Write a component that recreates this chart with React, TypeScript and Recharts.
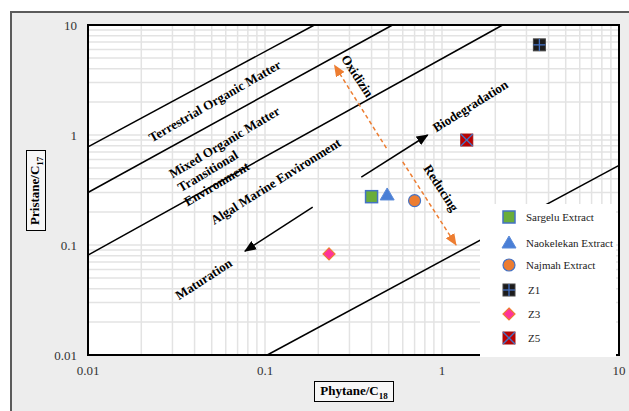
import React from "react";
import {
  CartesianGrid,
  ReferenceArea,
  ReferenceDot,
  ReferenceLine,
  Scatter,
  ScatterChart,
  XAxis,
  YAxis,
} from "recharts";

const majorTicks = [0.01, 0.1, 1, 10];
const minorSteps = [1, 2, 3, 4, 5, 6, 7, 8, 9];
const gridTicks = [
  ...majorTicks.slice(0, 3).flatMap((d) => minorSteps.map((m) => +(d * m).toPrecision(3))),
  10,
];

const sargelu = [{ x: 0.4, y: 0.275 }];
const naokelekan = [{ x: 0.49, y: 0.285 }];
const najmah = [{ x: 0.7, y: 0.253 }];
const z1 = [{ x: 3.55, y: 6.6 }];
const z3 = [{ x: 0.23, y: 0.083 }];
const z5 = [{ x: 1.38, y: 0.9 }];

const boundaryLines = [
  [{ x: 0.01, y: 0.78 }, { x: 0.19, y: 10 }],
  [{ x: 0.01, y: 0.3 }, { x: 0.525, y: 10 }],
  [{ x: 0.01, y: 0.081 }, { x: 2.2, y: 10 }],
  [{ x: 0.103, y: 0.01 }, { x: 10, y: 0.53 }],
];

const dashedArrows = [
  [{ x: 0.485, y: 0.76 }, { x: 0.247, y: 4.3 }],
  [{ x: 0.6, y: 0.57 }, { x: 1.2, y: 0.1 }],
];
const solidArrows = [
  [{ x: 0.35, y: 0.415 }, { x: 0.83, y: 1.0 }],
  [{ x: 0.186, y: 0.221 }, { x: 0.077, y: 0.088 }],
];

const zoneLabels = [
  { text: "Terrestrial Organic Matter", x: 0.052, y: 2.04, angle: -30 },
  { text: "Mixed Organic Matter", x: 0.059, y: 0.86, angle: -31 },
  { text: "Transitional", x: 0.0475, y: 0.47, angle: -31 },
  { text: "Environment", x: 0.0534, y: 0.36, angle: -31 },
  { text: "Algal Marine Environment", x: 0.115, y: 0.38, angle: -32 },
  { text: "Maturation", x: 0.045, y: 0.049, angle: -33 },
  { text: "Biodegradation", x: 1.445, y: 1.84, angle: -32 },
  { text: "Oxidizin", x: 0.333, y: 3.44, angle: 57 },
  { text: "Reducing", x: 0.99, y: 0.33, angle: 57 },
];

const serif = "Liberation Serif, Times New Roman, serif";
const blue = "#4472c4";

const SargeluMark = ({ cx, cy }: any) => (
  <rect x={cx - 6} y={cy - 6} width={12} height={12} fill="#6aad3a" stroke={blue} strokeWidth={1.5} />
);
const NaokelekanMark = ({ cx, cy }: any) => (
  <path d={`M${cx},${cy - 7} L${cx + 7},${cy + 5} L${cx - 7},${cy + 5} Z`} fill="#4a7fd6" stroke="#5b8ad8" strokeWidth={1} />
);
const NajmahMark = ({ cx, cy }: any) => (
  <circle cx={cx} cy={cy} r={6} fill="#ed7d31" stroke={blue} strokeWidth={1.2} />
);
const Z1Mark = ({ cx, cy }: any) => (
  <g>
    <rect x={cx - 6} y={cy - 6} width={12} height={12} fill="#1c1c1c" stroke="#444" strokeWidth={1} />
    <line x1={cx - 6} y1={cy} x2={cx + 6} y2={cy} stroke={blue} strokeWidth={1.3} />
    <line x1={cx} y1={cy - 6} x2={cx} y2={cy + 6} stroke={blue} strokeWidth={1.3} />
  </g>
);
const Z3Mark = ({ cx, cy }: any) => (
  <path d={`M${cx},${cy - 6} L${cx + 6},${cy} L${cx},${cy + 6} L${cx - 6},${cy} Z`} fill="#ff3399" stroke="#ed7d31" strokeWidth={1.2} />
);
const Z5Mark = ({ cx, cy }: any) => (
  <g>
    <rect x={cx - 6} y={cy - 6} width={12} height={12} fill="#c00000" stroke="#a01010" strokeWidth={1} />
    <line x1={cx - 6} y1={cy - 6} x2={cx + 6} y2={cy + 6} stroke={blue} strokeWidth={1.3} />
    <line x1={cx + 6} y1={cy - 6} x2={cx - 6} y2={cy + 6} stroke={blue} strokeWidth={1.3} />
  </g>
);

const legendItems = [
  { name: "Sargelu Extract", Mark: SargeluMark },
  { name: "Naokelekan Extract", Mark: NaokelekanMark },
  { name: "Najmah Extract", Mark: NajmahMark },
  { name: "Z1", Mark: Z1Mark },
  { name: "Z3", Mark: Z3Mark },
  { name: "Z5", Mark: Z5Mark },
];
const legendRows = [13, 39, 61, 86, 110, 134];

const fmtTick = (v: number) => (majorTicks.includes(v) ? String(v) : "");

export default function App() {
  return (
    <div style={{ position: "absolute", left: 0, top: 0, width: 629, height: 411, overflow: "hidden", background: "#fff" }}>
      <svg width={0} height={0} style={{ position: "absolute" }}>
        <defs>
          <marker id="arrowBlack" markerWidth={12} markerHeight={10} refX={11} refY={5} orient="auto" markerUnits="userSpaceOnUse">
            <path d="M0,0 L12,5 L0,10 Z" fill="#000" />
          </marker>
          <marker id="arrowOrange" markerWidth={12} markerHeight={10} refX={11} refY={5} orient="auto" markerUnits="userSpaceOnUse">
            <path d="M0,0 L12,5 L0,10 Z" fill="#ed7d31" />
          </marker>
        </defs>
      </svg>
      <div
        style={{
          position: "absolute",
          left: 10,
          top: 11,
          width: 700,
          height: 500,
          background: "#ededed",
          borderLeft: "2px solid #5b5b5b",
          borderTop: "2px solid #5b5b5b",
        }}
      />
      <div style={{ position: "absolute", left: 0, top: 0 }}>
        <ScatterChart width={629} height={411} margin={{ top: 25, right: 10, bottom: 26, left: 28 }}>
          <CartesianGrid stroke="#e3e3e3" strokeWidth={1.5} fill="#fff" />
          <XAxis
            type="number"
            dataKey="x"
            scale="log"
            domain={[0.01, 10]}
            ticks={gridTicks}
            interval={0}
            tickFormatter={fmtTick}
            axisLine={false}
            tickLine={false}
            tickMargin={5}
            height={30}
            tick={{ fill: "#333", fontSize: 13, fontFamily: serif }}
          />
          <YAxis
            type="number"
            dataKey="y"
            scale="log"
            domain={[0.01, 10]}
            ticks={gridTicks}
            interval={0}
            tickFormatter={fmtTick}
            axisLine={false}
            tickLine={false}
            tickMargin={5}
            width={60}
            tick={{ fill: "#333", fontSize: 13, fontFamily: serif }}
          />
          <ReferenceArea x1={0.01} x2={10} y1={0.01} y2={10} fill="none" stroke="#000" strokeWidth={2} />
          {boundaryLines.map((seg, i) => (
            <ReferenceLine key={`b${i}`} segment={seg} stroke="#000" strokeWidth={1.5} />
          ))}
          {dashedArrows.map((seg, i) => (
            <ReferenceLine
              key={`d${i}`}
              segment={seg}
              shape={(p: any) => (
                <line x1={p.x1} y1={p.y1} x2={p.x2} y2={p.y2} stroke="#ed7d31" strokeWidth={1.5} strokeDasharray="4 3" markerEnd="url(#arrowOrange)" />
              )}
            />
          ))}
          {solidArrows.map((seg, i) => (
            <ReferenceLine
              key={`s${i}`}
              segment={seg}
              shape={(p: any) => (
                <line x1={p.x1} y1={p.y1} x2={p.x2} y2={p.y2} stroke="#000" strokeWidth={1.5} markerEnd="url(#arrowBlack)" />
              )}
            />
          ))}
          {zoneLabels.map((l) => (
            <ReferenceDot
              key={l.text}
              x={l.x}
              y={l.y}
              r={1}
              shape={(p: any) => (
                <text
                  x={p.cx}
                  y={p.cy}
                  textAnchor="middle"
                  dominantBaseline="central"
                  transform={`rotate(${l.angle} ${p.cx} ${p.cy})`}
                  fontFamily={serif}
                  fontWeight="bold"
                  fontSize={13}
                  fill="#000"
                >
                  {l.text}
                </text>
              )}
            />
          ))}
          <Scatter name="Sargelu Extract" data={sargelu} shape={SargeluMark} isAnimationActive={false} />
          <Scatter name="Naokelekan Extract" data={naokelekan} shape={NaokelekanMark} isAnimationActive={false} />
          <Scatter name="Najmah Extract" data={najmah} shape={NajmahMark} isAnimationActive={false} />
          <Scatter name="Z1" data={z1} shape={Z1Mark} isAnimationActive={false} />
          <Scatter name="Z3" data={z3} shape={Z3Mark} isAnimationActive={false} />
          <Scatter name="Z5" data={z5} shape={Z5Mark} isAnimationActive={false} />
        </ScatterChart>
      </div>
      <div style={{ position: "absolute", left: 480, top: 204, width: 136, height: 153, background: "#fff" }}>
        {legendItems.map(({ name, Mark }, i) => (
          <div key={name} style={{ position: "absolute", left: 0, top: legendRows[i] - 8, height: 16, width: 136 }}>
            <svg width={40} height={16} style={{ position: "absolute", left: 0, top: 0 }}>
              <Mark cx={29} cy={8} />
            </svg>
            <span
              style={{
                position: "absolute",
                left: i > 2 ? 48 : 46,
                top: 0,
                fontFamily: serif,
                fontSize: 11,
                lineHeight: "16px",
                color: "#222",
                whiteSpace: "nowrap",
              }}
            >
              {name}
            </span>
          </div>
        ))}
      </div>
      <div
        style={{
          position: "absolute",
          left: 26,
          top: 150,
          width: 18,
          height: 79,
          border: "1.5px solid #000",
          background: "#f7f7f7",
          display: "flex",
          alignItems: "center",
          justifyContent: "center",
        }}
      >
        <span
          style={{
            transform: "rotate(-90deg)",
            whiteSpace: "nowrap",
            fontFamily: serif,
            fontWeight: "bold",
            fontSize: 13,
            color: "#000",
          }}
        >
          Pristane/C<sub style={{ fontSize: 9 }}>17</sub>
        </span>
      </div>
      <div
        style={{
          position: "absolute",
          left: 314,
          top: 381,
          width: 78,
          height: 19,
          border: "1.5px solid #000",
          background: "#f7f7f7",
          display: "flex",
          alignItems: "center",
          justifyContent: "center",
        }}
      >
        <span
          style={{
            fontFamily: serif,
            fontWeight: "bold",
            fontSize: 13,
            color: "#000",
            whiteSpace: "nowrap",
          }}
        >
          Phytane/C<sub style={{ fontSize: 9 }}>18</sub>
        </span>
      </div>
    </div>
  );
}
